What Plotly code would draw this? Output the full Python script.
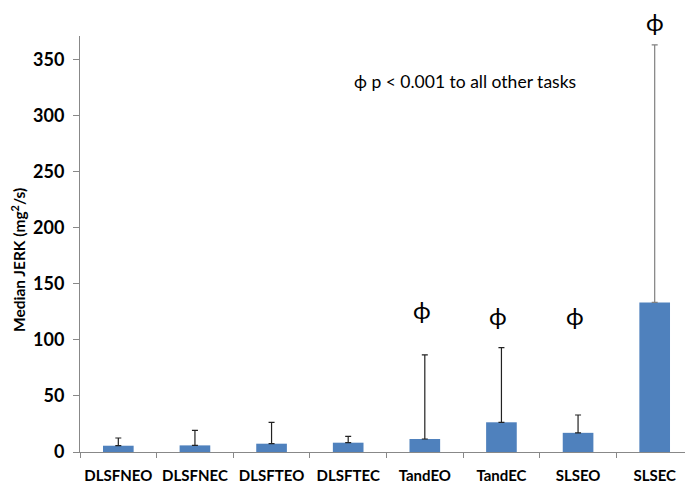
import plotly.graph_objects as go

categories = ["DLSFNEO", "DLSFNEC", "DLSFTEO", "DLSFTEC", "TandEO", "TandEC", "SLSEO", "SLSEC"]
medians = [5.6, 5.9, 7.4, 8.3, 11.6, 26.5, 17.1, 133.4]
upper = [12.5, 19.3, 26.4, 13.9, 86.6, 93.0, 33.0, 363.0]
sig_tasks = ["TandEO", "TandEC", "SLSEO", "SLSEC"]
sig_y = [127, 122, 122, 384]
y_ticks = [0, 50, 100, 150, 200, 250, 300, 350]
note_text = "ϕ p < 0.001 to all other tasks"

FONT = "Lato"
BLUE = "#4F81BD"
Y_MAX = 371

fig = go.Figure()
main_idx = [i for i, c in enumerate(categories) if c != "SLSEC"]
last_idx = [i for i, c in enumerate(categories) if c == "SLSEC"]

def add(idx, ecolor):
    fig.add_trace(go.Bar(
        x=[categories[i] for i in idx],
        y=[medians[i] for i in idx],
        marker=dict(color=BLUE, line=dict(width=0)),
        width=0.4,
        error_y=dict(type="data", symmetric=False,
                     array=[upper[i] - medians[i] for i in idx],
                     arrayminus=[0 for _ in idx],
                     color=ecolor, thickness=1.2, width=3),
        showlegend=False,
    ))

add(main_idx, "#222222")
add(last_idx, "#808080")

for c, yv in zip(sig_tasks, sig_y):
    if yv <= Y_MAX:
        fig.add_annotation(x=c, y=yv, xref="x", yref="y", text="ϕ", showarrow=False,
                           xshift=-3, yanchor="middle",
                           font=dict(family=FONT, size=24, color="black"))
    else:
        fig.add_annotation(x=c, y=yv / Y_MAX, xref="x", yref="paper", text="ϕ", showarrow=False,
                           yanchor="middle",
                           font=dict(family=FONT, size=24, color="black"))

fig.add_annotation(x=0.444, y=0.89, xref="paper", yref="paper", xanchor="left", yanchor="middle",
                   text=note_text, showarrow=False,
                   font=dict(family=FONT, size=17.5, color="black"))

fig.add_annotation(x=0, y=0.4615, xref="paper", yref="paper", xanchor="center", yanchor="middle",
                   xshift=-62, textangle=-90, showarrow=False,
                   text="<b>Median JERK (mg<sup>2</sup>/s)</b>",
                   font=dict(family=FONT, size=15.5, color="black"))

fig.update_layout(
    width=685, height=481,
    margin=dict(l=72, r=0, t=28, b=37, autoexpand=False),
    paper_bgcolor="white", plot_bgcolor="white",
    barmode="overlay",
    font=dict(family=FONT, color="black"),
    xaxis=dict(
        categoryorder="array", categoryarray=categories,
        showline=True, linecolor="#888888", linewidth=1,
        ticks="outside", tickson="boundaries", ticklen=5, tickcolor="#888888",
        tickangle=0, automargin=False, ticklabelstandoff=10,
        tickfont=dict(family=FONT, size=15, color="black", weight="bold"),
        showgrid=False, zeroline=False,
    ),
    yaxis=dict(
        range=[0, Y_MAX], tickvals=y_ticks,
        showline=True, linecolor="#888888", linewidth=1,
        ticks="outside", ticklen=6, tickcolor="#888888", ticklabelstandoff=5,
        automargin=False,
        tickfont=dict(family=FONT, size=18, color="black", weight="bold"),
        showgrid=False, zeroline=False,
    ),
)

fig.write_html("out.html")
